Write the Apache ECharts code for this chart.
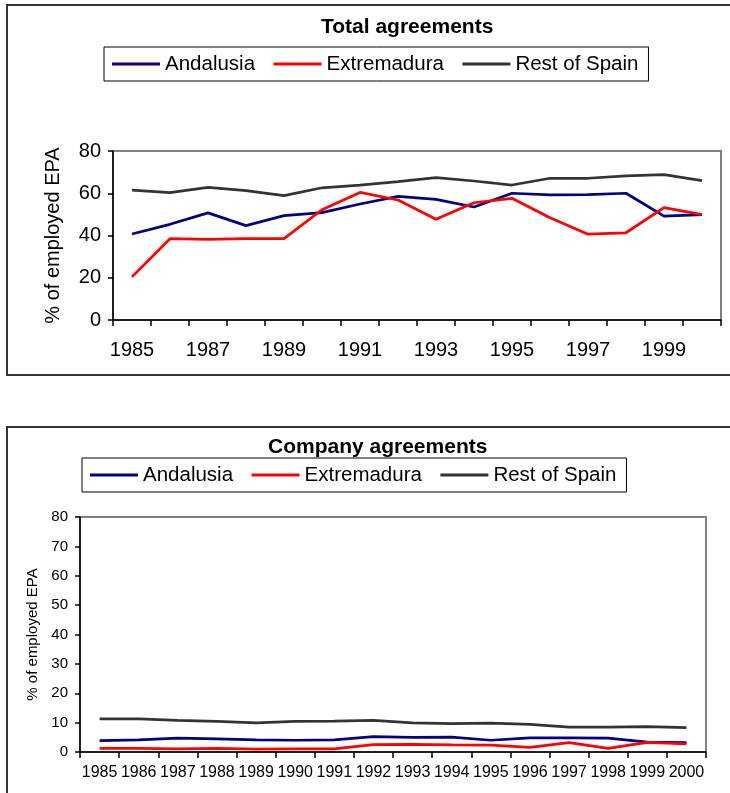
<!DOCTYPE html>
<html>
    <head>
        <meta charset="utf-8">
        <script src="https://cdn.jsdelivr.net/npm/echarts@6/dist/echarts.min.js"></script>
        <style>
            html, body {
                margin: 0;
                padding: 0;
                background: #fff;
            }
            #main {
                width: 730px;
                height: 793px;
            }
        </style>
    </head>
    <body>
        <div id="main"></div>

        <script>

            var years = ['1985', '1986', '1987', '1988', '1989', '1990', '1991', '1992',
                '1993', '1994', '1995', '1996', '1997', '1998', '1999', '2000'];

            // Total agreements (% of employed EPA)
            var totalAndalusia = [40.7, 45.3, 50.7, 44.7, 49.4, 50.8, 54.9, 58.5,
                57.1, 53.5, 60.0, 59.2, 59.3, 60.0, 49.2, 49.9];
            var totalExtremadura = [20.4, 38.5, 38.2, 38.5, 38.5, 52.2, 60.4, 56.8,
                47.7, 55.5, 57.6, 48.4, 40.6, 41.3, 53.2, 49.9];
            var totalRest = [61.5, 60.3, 62.8, 61.2, 58.9, 62.6, 63.9, 65.5,
                67.4, 65.8, 63.9, 67.1, 67.1, 68.2, 68.8, 66.0];

            // Company agreements (% of employed EPA)
            var companyAndalusia = [3.9, 4.1, 4.7, 4.5, 4.1, 4.0, 4.1, 5.2,
                5.0, 5.1, 4.0, 4.8, 4.8, 4.7, 3.4, 3.2];
            var companyExtremadura = [1.2, 1.2, 1.1, 1.2, 1.0, 1.1, 1.1, 2.5,
                2.6, 2.4, 2.3, 1.6, 3.2, 1.2, 3.3, 2.8];
            var companyRest = [11.3, 11.3, 10.8, 10.4, 9.9, 10.4, 10.5, 10.8,
                9.9, 9.7, 9.8, 9.4, 8.5, 8.5, 8.6, 8.3];

            var seriesNames = ['Andalusia', 'Extremadura', 'Rest of Spain'];
            var colors = ['#000080', '#ff0000', '#333333'];

            var font = 'Liberation Sans';

            var chart = echarts.init(document.getElementById('main'));

            var legendBase = {
                data: seriesNames,
                icon: 'rect',
                itemWidth: 48,
                itemHeight: 3,
                itemGap: 18.5,
                padding: [5, 10, 5, 8],
                borderColor: '#000',
                borderWidth: 1,
                textStyle: {
                    fontFamily: font,
                    fontSize: 20.5,
                    color: '#000',
                    lineHeight: 24
                },
                selectedMode: false
            };

            function xAxisFor(gridIndex, fontSize, labelInterval, margin) {
                return {
                    type: 'category',
                    gridIndex: gridIndex,
                    data: years,
                    boundaryGap: true,
                    axisLine: {lineStyle: {color: '#000', width: 1.5}},
                    axisTick: {show: true, interval: 0, length: 6, lineStyle: {color: '#000', width: 1.5}},
                    axisLabel: {
                        interval: labelInterval,
                        margin: margin,
                        color: '#000',
                        fontFamily: font,
                        fontSize: fontSize
                    },
                    splitLine: {show: false}
                };
            }

            function yAxisFor(gridIndex, fontSize, interval, nameGap) {
                return {
                    type: 'value',
                    gridIndex: gridIndex,
                    min: 0,
                    max: 80,
                    interval: interval,
                    name: '% of employed EPA',
                    nameLocation: 'middle',
                    nameGap: nameGap,
                    nameTextStyle: {color: '#000', fontFamily: font, fontSize: fontSize},
                    axisLine: {show: true, lineStyle: {color: '#000', width: 1.5}},
                    axisTick: {show: true, length: 5, lineStyle: {color: '#000', width: 1.5}},
                    axisLabel: {margin: 12, color: '#000', fontFamily: font, fontSize: fontSize},
                    splitLine: {show: false}
                };
            }

            function lineSeries(name, idx, axisIndex, data) {
                return {
                    name: name,
                    type: 'line',
                    xAxisIndex: axisIndex,
                    yAxisIndex: axisIndex,
                    data: data,
                    symbol: 'none',
                    showSymbol: false,
                    color: colors[idx],
                    lineStyle: {color: colors[idx], width: 2.75},
                    emphasis: {disabled: true}
                };
            }

            chart.setOption({
                animation: false,
                graphic: [{
                    type: 'rect',
                    shape: {x: 7, y: 5, width: 740, height: 370},
                    style: {fill: 'none', stroke: '#333', lineWidth: 2}
                }, {
                    type: 'rect',
                    shape: {x: 7, y: 427, width: 740, height: 400},
                    style: {fill: 'none', stroke: '#333', lineWidth: 2}
                }],
                title: [{
                    text: 'Total agreements',
                    left: 321,
                    top: 17,
                    padding: 0,
                    textStyle: {fontFamily: font, fontSize: 21, fontWeight: 'bold', color: '#000'}
                }, {
                    text: 'Company agreements',
                    left: 268,
                    top: 437,
                    padding: 0,
                    textStyle: {fontFamily: font, fontSize: 21, fontWeight: 'bold', color: '#000'}
                }],
                legend: [
                    Object.assign({}, legendBase, {left: 104, top: 47}),
                    Object.assign({}, legendBase, {left: 82, top: 458})
                ],
                grid: [{
                    left: 113,
                    top: 151,
                    width: 608,
                    height: 169,
                    show: true,
                    borderColor: '#808080',
                    borderWidth: 2,
                    backgroundColor: 'transparent'
                }, {
                    left: 80,
                    top: 517,
                    width: 626,
                    height: 235,
                    show: true,
                    borderColor: '#808080',
                    borderWidth: 2,
                    backgroundColor: 'transparent'
                }],
                xAxis: [
                    xAxisFor(0, 20, 1, 20),
                    xAxisFor(1, 16, 0, 13)
                ],
                yAxis: [
                    yAxisFor(0, 20, 20, 50),
                    yAxisFor(1, 15, 10, 40)
                ],
                series: [
                    lineSeries('Andalusia', 0, 0, totalAndalusia),
                    lineSeries('Extremadura', 1, 0, totalExtremadura),
                    lineSeries('Rest of Spain', 2, 0, totalRest),
                    lineSeries('Andalusia', 0, 1, companyAndalusia),
                    lineSeries('Extremadura', 1, 1, companyExtremadura),
                    lineSeries('Rest of Spain', 2, 1, companyRest)
                ]
            });

        </script>
    </body>
</html>
